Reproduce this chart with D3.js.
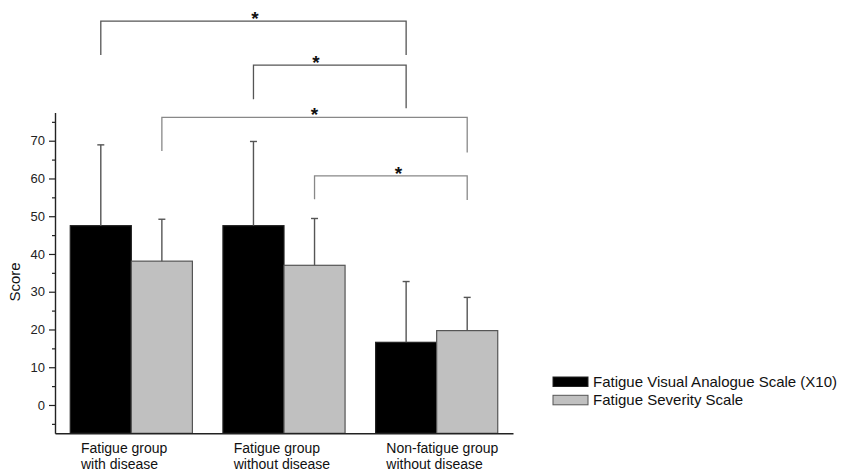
<!DOCTYPE html>
<html>
<head>
<meta charset="utf-8">
<script src="https://cdn.jsdelivr.net/npm/d3@7"></script>
<style>
  html, body { margin: 0; padding: 0; background: #fff; }
  svg { display: block; font-family: "Liberation Sans", Arial, sans-serif; }
</style>
</head>
<body>
<div id="chart"></div>
<script>
// groups on the x axis (two lines each)
const groups = ['Fatigue group\nwith disease', 'Fatigue group\nwithout disease', 'Non-fatigue group\nwithout disease'];
const seriesNames = ['Fatigue Visual Analogue Scale (X10)', 'Fatigue Severity Scale'];
const vasMeans = [47.5, 47.5, 16.6];
const vasErr = [68.9, 69.8, 32.7];     // top of error bar
const fssMeans = [38.1, 37.0, 19.7];
const fssErr = [49.2, 49.4, 28.5];
const majorTicks = [0, 10, 20, 30, 40, 50, 60, 70];
const minorTicks = [-5, 5, 15, 25, 35, 45, 55, 65, 75];

// significance brackets: [group, series] -> [group, series], level, leg ends, star position
const brFrom = [[0, 0], [1, 0], [0, 1], [1, 1]];
const brTo = [[2, 0], [2, 0], [2, 1], [2, 1]];
const brLevel = [101.7, 90, 76.2, 60.7];
const brLegFrom = [92.7, 81, 67.3, 54.5];
const brLegTo = [92.7, 78.6, 66.9, 54.3];
const brStar = [0.505, 0.41, 0.5, 0.55];

const W = 843, H = 473;
const svg = d3.select('#chart').append('svg').attr('width', W).attr('height', H);

const x0 = d3.scaleBand().domain(d3.range(groups.length)).range([55, 513]).padding(0);
const x1 = d3.scaleBand().domain([0, 1]).range([0, x0.bandwidth()]).paddingInner(0).paddingOuter(0.25);
const y = d3.scaleLinear().domain([-7.5, 77.5]).range([433.3, 112.4]);

const fills = ['#000000', '#c0c0c0'];
const strokes = ['#222', '#555'];

const rows = groups.map((g, i) => ({ i, vals: [vasMeans[i], fssMeans[i]], errs: [vasErr[i], fssErr[i]] }));

// bars
const gGroups = svg.append('g').selectAll('g')
  .data(rows)
  .join('g')
  .attr('transform', d => `translate(${x0(d.i)},0)`);

gGroups.selectAll('rect')
  .data(d => d.vals.map((v, s) => ({ s, v })))
  .join('rect')
  .attr('x', d => x1(d.s))
  .attr('y', d => y(d.v))
  .attr('width', x1.bandwidth())
  .attr('height', d => y(-7.5) - y(d.v))
  .attr('fill', d => fills[d.s])
  .attr('stroke', d => strokes[d.s])
  .attr('stroke-width', 1.2);

// error bars
const eb = gGroups.selectAll('g.err')
  .data(d => d.vals.map((v, s) => ({ s, v, e: d.errs[s] })))
  .join('g')
  .attr('class', 'err')
  .attr('stroke', '#555')
  .attr('stroke-width', 1.4);
eb.append('line')
  .attr('x1', d => x1(d.s) + x1.bandwidth() / 2)
  .attr('x2', d => x1(d.s) + x1.bandwidth() / 2)
  .attr('y1', d => y(d.v))
  .attr('y2', d => y(d.e));
eb.append('line')
  .attr('x1', d => x1(d.s) + x1.bandwidth() / 2 - 3.5)
  .attr('x2', d => x1(d.s) + x1.bandwidth() / 2 + 3.5)
  .attr('y1', d => y(d.e))
  .attr('y2', d => y(d.e));

// axes
const yAxis = svg.append('g')
  .attr('transform', 'translate(55,0)')
  .call(d3.axisLeft(y).tickValues(majorTicks).tickSize(6).tickSizeOuter(0).tickPadding(4).tickFormat(d3.format('d')));
yAxis.select('.domain').attr('stroke', '#222').attr('stroke-width', 1.4);
yAxis.selectAll('.tick line').attr('stroke', '#222').attr('stroke-width', 1.2);
yAxis.selectAll('.tick text').attr('font-size', 13).attr('fill', '#222')
  .attr('font-family', '"Liberation Sans", Arial, sans-serif');

const yMinor = svg.append('g')
  .attr('transform', 'translate(55,0)')
  .call(d3.axisLeft(y).tickValues(minorTicks).tickSize(3).tickSizeOuter(0).tickFormat(''));
yMinor.select('.domain').remove();
yMinor.selectAll('.tick line').attr('stroke', '#222').attr('stroke-width', 1.2);

const xAxis = svg.append('g')
  .attr('transform', `translate(0,${y(-7.5)})`)
  .call(d3.axisBottom(x0).tickSize(0).tickSizeOuter(0).tickFormat(''));
xAxis.select('.domain').attr('stroke', '#222').attr('stroke-width', 1.4);

// category labels, two lines, left aligned from the same offset in each group
groups.forEach((g, i) => {
  const t = svg.append('text')
    .attr('font-size', 14)
    .attr('fill', '#111');
  g.split('\n').forEach((ln, k) => {
    t.append('tspan')
      .attr('x', x0(i) + 26)
      .attr('y', 453 + k * 16)
      .text(ln);
  });
});

// y label
svg.append('text')
  .attr('transform', 'translate(20,282) rotate(-90)')
  .attr('text-anchor', 'middle')
  .attr('font-size', 15)
  .attr('fill', '#111')
  .text('Score');

// significance brackets
const barX = (gs) => x0(gs[0]) + x1(gs[1]) + x1.bandwidth() / 2;
brFrom.forEach((f, k) => {
  const xa = barX(f), xb = barX(brTo[k]);
  const col = k < 2 ? '#555' : '#888';
  svg.append('path')
    .attr('d', `M${xa},${y(brLegFrom[k])}V${y(brLevel[k])}H${xb}V${y(brLegTo[k])}`)
    .attr('fill', 'none')
    .attr('stroke', col)
    .attr('stroke-width', 1.3);
  svg.append('text')
    .attr('x', xa + (xb - xa) * brStar[k])
    .attr('y', y(brLevel[k]) + 4)
    .attr('text-anchor', 'middle')
    .attr('font-size', 19)
    .attr('font-weight', 'bold')
    .attr('fill', '#111')
    .text('*');
});

// legend
const leg = svg.append('g').attr('transform', 'translate(553,377)');
seriesNames.forEach((s, k) => {
  leg.append('rect')
    .attr('x', 0).attr('y', k * 18.3)
    .attr('width', 35).attr('height', 9.5)
    .attr('fill', fills[k])
    .attr('stroke', strokes[k])
    .attr('stroke-width', 1);
  leg.append('text')
    .attr('x', 40).attr('y', k * 18.3 + 10)
    .attr('font-size', 15)
    .attr('fill', '#111')
    .text(s);
});
</script>
</body>
</html>
